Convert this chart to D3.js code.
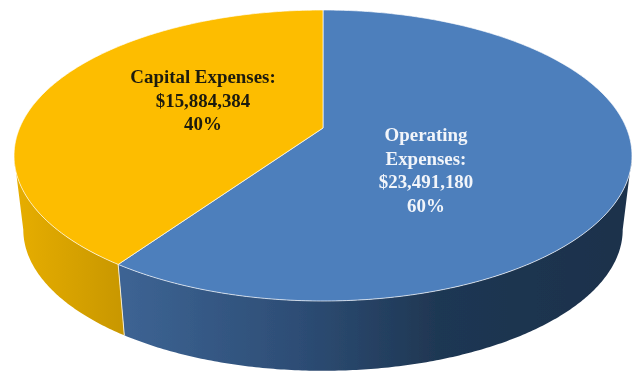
<!DOCTYPE html>
<html>
<head>
<meta charset="utf-8">
<script src="https://cdn.jsdelivr.net/npm/d3@7"></script>
<style>
    html, body { margin: 0; padding: 0; background: #fff; overflow: hidden; }
    svg { display: block; }
</style>
</head>
<body>
<svg id="chart" width="634" height="371"></svg>
<script>
const categories = ["Operating Expenses", "Capital Expenses"];
const amounts = [23491180, 15884384];
const percents = ["60%", "40%"];
const labelLines = [["Operating", "Expenses:"], ["Capital Expenses:"]];

const WIDTH = 634, HEIGHT = 371;
const CX = 323, CY = 128;            // where the pie centre lands on screen
const RX = 303.4, RY = 140.3;
const PERSPECTIVE = 0.189;           // near edge of the disc looks bigger
const BASE_CY = 203, BASE_SCALE = 0.97;
const LABEL_POS = [[426, 135], [203, 77]];
const LINE_HEIGHT = 23.6;

const TOP_COLORS = ["#4e7fbc", "#fdbd00"];
const WALL_STOPS = [
    [[0, "#3d6494"], [0.35, "#2d4d75"], [0.62, "#1f3753"], [1, "#1c314b"]],
    [[0, "#e6ad00"], [1, "#c89700"]]
];
const WALL_EXTENT = [[119, 632], [18, 124]];

// only the front of the rim shows, between the two widest points of the disc
const FRONT_START = Math.PI / 2 + Math.asin(PERSPECTIVE);
const FRONT_END = 2 * Math.PI - FRONT_START;

// angle is clockwise from the top of the pie
function project(angle, cy, scale) {
    const u = Math.sin(angle), v = -Math.cos(angle);
    const w = 1 - PERSPECTIVE * v;
    return [CX + scale * RX * u / w, cy + scale * RY * v / w];
}

function arcPoints(start, end, cy, scale) {
    const n = Math.max(2, Math.ceil((end - start) / 0.01));
    return d3.range(n + 1).map(i => project(start + (end - start) * i / n, cy, scale));
}

const svg = d3.select("#chart");
const line = d3.line();
const slices = d3.pie().sort(null)(amounts);

const defs = svg.append("defs");
slices.forEach((s, i) => {
    const grad = defs.append("linearGradient")
        .attr("id", "wall" + i)
        .attr("gradientUnits", "userSpaceOnUse")
        .attr("x1", WALL_EXTENT[i][0]).attr("x2", WALL_EXTENT[i][1])
        .attr("y1", 0).attr("y2", 0);
    WALL_STOPS[i].forEach(st => grad.append("stop").attr("offset", st[0]).attr("stop-color", st[1]));
});
defs.append("filter").attr("id", "soft")
    .append("feGaussianBlur").attr("stdDeviation", 0.35);

const chart = svg.append("g").attr("filter", "url(#soft)");

// side walls first, the top disc sits over their upper edge
chart.selectAll("path.wall").data(slices).enter().append("path")
    .attr("class", "wall")
    .attr("fill", (d, i) => `url(#wall${i})`)
    .attr("d", d => {
        const start = Math.max(d.startAngle, FRONT_START);
        const end = Math.min(d.endAngle, FRONT_END);
        const upper = arcPoints(start, end, CY, 1);
        const lower = arcPoints(start, end, BASE_CY, BASE_SCALE).reverse();
        return line(upper.concat(lower)) + "Z";
    });

// light seam down the front of the wall where the two slices meet
const seamAngle = slices[0].endAngle;
chart.append("path")
    .attr("d", line([project(seamAngle, CY, 1), project(seamAngle, BASE_CY, BASE_SCALE)]))
    .attr("stroke", "#f3ead0").attr("stroke-width", 1).attr("fill", "none");

chart.selectAll("path.top").data(slices).enter().append("path")
    .attr("class", "top")
    .attr("fill", (d, i) => TOP_COLORS[i])
    .attr("stroke", "#ffffff").attr("stroke-opacity", 0.75).attr("stroke-width", 0.9)
    .attr("stroke-linejoin", "round")
    .attr("d", d => line([[CX, CY]].concat(arcPoints(d.startAngle, d.endAngle, CY, 1))) + "Z");

const fmt = d3.format("$,");
const textColors = ["#f2f5fa", "#1c1a10"];
const labels = svg.append("g").attr("filter", "url(#soft)")
    .attr("font-family", "'Liberation Serif', serif")
    .attr("font-weight", "bold")
    .attr("font-size", 18.9)
    .attr("text-anchor", "middle");

categories.forEach((name, i) => {
    const rows = labelLines[i].concat([fmt(amounts[i]), percents[i]]);
    labels.selectAll(null).data(rows).enter().append("text")
        .attr("x", LABEL_POS[i][0])
        .attr("y", (d, j) => LABEL_POS[i][1] + j * LINE_HEIGHT)
        .attr("dy", "0.32em")
        .attr("fill", textColors[i])
        .text(d => d);
});
</script>
</body>
</html>
